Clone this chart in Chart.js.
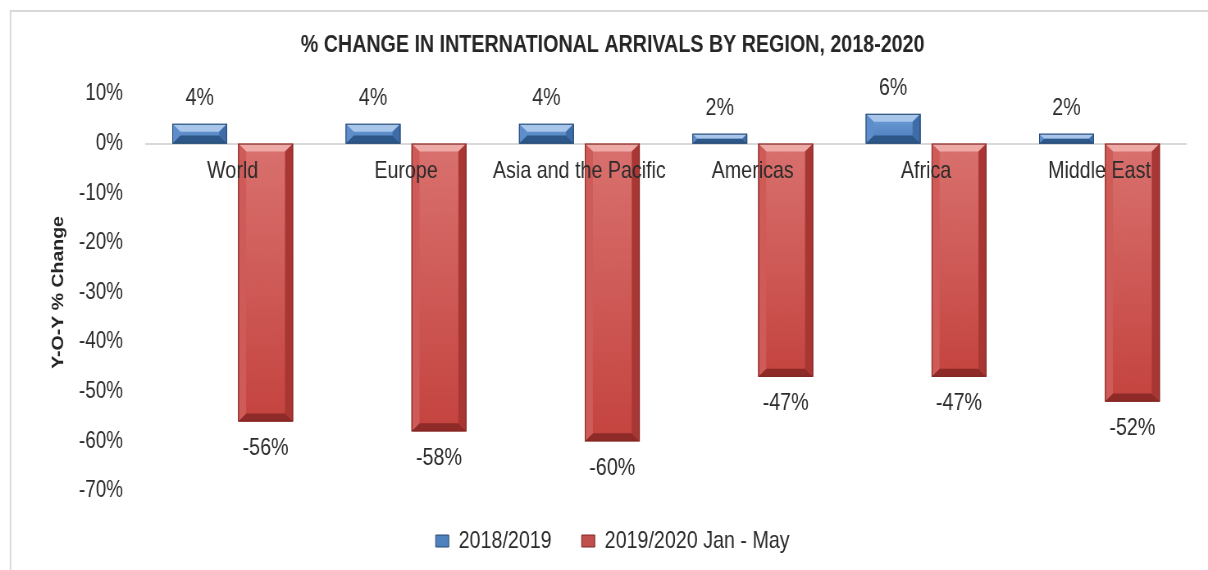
<!DOCTYPE html>
<html>
<head>
<meta charset="utf-8">
<script src="https://cdn.jsdelivr.net/npm/chart.js@4.4.0/dist/chart.umd.min.js"></script>
<style>
html, body { margin: 0; padding: 0; background: #fff; overflow: hidden; }
#wrap { position: relative; width: 1208px; height: 570px; }
</style>
</head>
<body>
<div id="wrap">
  <!-- drawn wider and squeezed to 1208px so the text gets the narrow look of the original -->
  <canvas id="arrivalsChart" width="1473" height="570" style="width:1208px;height:570px"></canvas>
</div>
<script>
const regions = ['World', 'Europe', 'Asia and the Pacific', 'Americas', 'Africa', 'Middle East'];
const change1819 = [4, 4, 4, 2, 6, 2];
const change1920 = [-56, -58, -60, -47, -47, -52];
const seriesNames = ['2018/2019', '2019/2020 Jan - May'];

const SQUEEZE = 1208 / 1473;
const FONT = "'Liberation Sans', Arial, sans-serif";
const TEXT = '#2b2b2b';

// bevel colours per series
const palettes = [
    { top: '#a8c5ea', faceA: '#6f9fd8', faceB: '#4a7cbc', bottom: '#2d5788', left: '#5d8ecb', right: '#3d6ca6', edge: '#2a4a72' },
    { top: '#eeaaa7', faceA: '#d9716e', faceB: '#c4433f', bottom: '#8e2a27', left: '#cf5b58', right: '#a83734', edge: '#7e2624' }
];

const frame = {
    id: 'frame',
    beforeDraw(chart) {
        const ctx = chart.ctx;
        const x = 10.5 / SQUEEZE;
        ctx.save();
        ctx.strokeStyle = '#d9d9d9';
        ctx.lineWidth = 2;
        ctx.beginPath();
        ctx.moveTo(x, chart.height);
        ctx.lineTo(x, 11);
        ctx.lineTo(chart.width, 11);
        ctx.stroke();
        ctx.restore();
    }
};

const bevel = {
    id: 'bevel',
    beforeDatasetsDraw(chart) {
        const ctx = chart.ctx;
        ctx.save();
        ctx.shadowColor = 'rgba(0,0,0,0.35)';
        ctx.shadowBlur = 7;
        ctx.shadowOffsetY = 4;
    },
    afterDatasetsDraw(chart) {
        const ctx = chart.ctx;
        ctx.restore();
        chart.data.datasets.forEach((ds, i) => {
            const p = palettes[i];
            chart.getDatasetMeta(i).data.forEach((bar, j) => {
                const { x, y, base, width } = bar.getProps(['x', 'y', 'base', 'width'], true);
                const x0 = x - width / 2, x1 = x + width / 2;
                const t = Math.min(y, base), b = Math.max(y, base);
                const h = b - t;
                const sy = Math.min(8, h / 2);
                const sx = Math.min(sy / SQUEEZE, width / 2);
                ctx.save();
                const g = ctx.createLinearGradient(0, t, 0, b);
                g.addColorStop(0, p.faceA);
                g.addColorStop(1, p.faceB);
                ctx.fillStyle = g;
                ctx.fillRect(x0, t, width, h);
                const poly = (pts, col) => {
                    ctx.beginPath();
                    ctx.moveTo(pts[0][0], pts[0][1]);
                    for (let k = 1; k < pts.length; k++) ctx.lineTo(pts[k][0], pts[k][1]);
                    ctx.closePath();
                    ctx.fillStyle = col;
                    ctx.fill();
                };
                poly([[x0, t], [x1, t], [x1 - sx, t + sy], [x0 + sx, t + sy]], p.top);
                poly([[x0, b], [x1, b], [x1 - sx, b - sy], [x0 + sx, b - sy]], p.bottom);
                poly([[x0, t], [x0 + sx, t + sy], [x0 + sx, b - sy], [x0, b]], p.left);
                poly([[x1, t], [x1 - sx, t + sy], [x1 - sx, b - sy], [x1, b]], p.right);
                ctx.strokeStyle = p.edge;
                ctx.lineWidth = 1;
                ctx.strokeRect(x0 + 0.5, t + 0.5, width - 1, h - 1);

                // value label
                const v = ds.data[j];
                ctx.fillStyle = TEXT;
                ctx.font = '24px ' + FONT;
                ctx.textAlign = 'center';
                ctx.textBaseline = 'middle';
                ctx.fillText(v + '%', x, v >= 0 ? y - 25 : y + 27);
                ctx.restore();
            });
        });
    }
};

new Chart(document.getElementById('arrivalsChart'), {
    type: 'bar',
    data: {
        labels: regions,
        datasets: [{
            label: seriesNames[0],
            data: change1819,
            backgroundColor: '#4f81bd',
            borderColor: '#2a4a72',
            borderWidth: 1
        }, {
            label: seriesNames[1],
            data: change1920,
            backgroundColor: '#c0504d',
            borderColor: '#7e2624',
            borderWidth: 1
        }]
    },
    options: {
        responsive: false,
        animation: false,
        categoryPercentage: 0.76,
        barPercentage: 0.833,
        layout: { padding: { top: 10, left: 47.7, right: 26.7, bottom: 7 } },
        plugins: {
            tooltip: { enabled: false },
            title: {
                display: true,
                text: '% CHANGE IN INTERNATIONAL ARRIVALS BY REGION, 2018-2020',
                color: '#262626',
                font: { family: FONT, size: 24, weight: 'bold' },
                padding: { top: 21, bottom: 34.2 }
            },
            legend: {
                position: 'bottom',
                title: { display: true, text: '', font: { size: 2, lineHeight: 0.75 }, padding: 0 },
                labels: {
                    color: TEXT,
                    font: { family: FONT, size: 24 },
                    boxWidth: 16,
                    boxHeight: 12,
                    padding: 36.6
                }
            }
        },
        scales: {
            x: {
                position: { y: 0 },
                grid: { display: false, drawTicks: false },
                border: { display: true, color: '#d9d9d9', width: 2 },
                ticks: {
                    z: 1,
                    color: TEXT,
                    font: { family: FONT, size: 24 },
                    padding: 13,
                    maxRotation: 0,
                    autoSkip: false
                }
            },
            y: {
                min: -70,
                max: 10,
                grid: { display: false, drawTicks: false },
                border: { display: false },
                ticks: {
                    stepSize: 10,
                    padding: 28,
                    color: TEXT,
                    font: { family: FONT, size: 23 },
                    callback: v => v + '%'
                },
                title: {
                    display: true,
                    text: 'Y-O-Y % Change',
                    color: '#262626',
                    font: { family: FONT, size: 19.5, weight: 'bold' },
                    padding: { top: 11.9, bottom: 0 }
                },
                afterFit(scale) { scale.width = 130.3; }
            }
        }
    },
    plugins: [frame, bevel]
});
</script>
</body>
</html>
